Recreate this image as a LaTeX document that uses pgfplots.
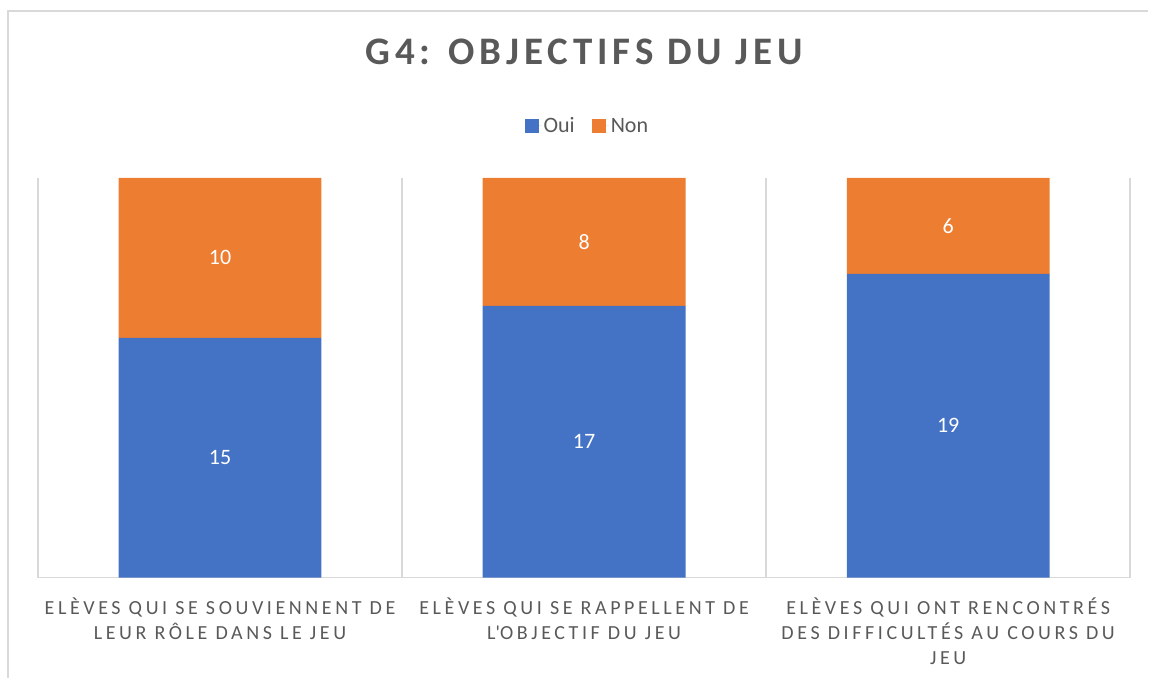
\documentclass[border=0pt]{standalone}
\usepackage{fontspec}
\setmainfont{Carlito}
\usepackage{pgfplots}
\usepackage{pgfplotstable}
\pgfplotsset{compat=1.18}
\definecolor{oui}{HTML}{4472C4}
\definecolor{non}{HTML}{ED7D31}
\definecolor{txt}{HTML}{595959}
\definecolor{grid}{HTML}{D9D9D9}
\pgfplotstableread{
x oui non
0 15 10
1 17 8
2 19 6
}\data
\begin{document}
\begin{tikzpicture}
\path (0pt,0pt) rectangle (1149pt,678pt);
\begin{axis}[
  at={(38pt,100pt)}, anchor=south west,
  scale only axis, width=1093pt, height=400pt,
  ybar stacked, bar width=203pt,
  xmin=-0.5, xmax=2.5, ymin=0, ymax=25,
  hide y axis,
  axis x line*=bottom,
  x axis line style={grid, line width=1.5pt, -},
  xtick={0,1,2},
  xticklabels={{ELÈVES QUI SE SOUVIENNENT DE\\LEUR RÔLE DANS LE JEU},{ELÈVES QUI SE RAPPELLENT DE\\L\textquotesingle OBJECTIF DU JEU},{ELÈVES QUI ONT RENCONTRÉS\\DES DIFFICULTÉS AU COURS DU\\JEU}},
  xticklabel style={font=\fontsize{20}{25}\selectfont\addfontfeature{LetterSpace=18}, text=txt, align=center, yshift=-17pt},
  major tick length=0pt, minor tick length=0pt,
  minor xtick={-0.5,0.5,1.5,2.5},
  xminorgrids, minor x grid style={grid, line width=1.5pt},
  title={G4: OBJECTIFS DU JEU},
  title style={at={(axis description cs:0.5,1.3)}, anchor=center, font=\fontsize{39}{47}\selectfont\bfseries\addfontfeature{LetterSpace=12.5}, text=txt},
  legend style={at={(axis description cs:0.503,1.13)}, anchor=center, draw=none, font=\fontsize{22}{26}\selectfont, text=txt, /tikz/every even column/.append style={column sep=15pt}},
  legend columns=2,
  legend image code/.code={\fill[#1] (0pt,-7pt) rectangle (14pt,7pt); \path (0pt,0pt) -- (17pt,0pt);},
  nodes near coords={\pgfmathprintnumber[assume math mode=true]{\segval}},
  nodes near coords align={center},
  every node near coord/.append style={font=\fontsize{22}{26}\selectfont, text=white, anchor=center},
]
\addplot[fill=oui, draw=none, visualization depends on={\thisrow{oui}\as\segval}] table[x=x,y=oui]{\data};
\addplot[fill=non, draw=none, visualization depends on={\thisrow{non}\as\segval}] table[x=x,y=non]{\data};
\legend{Oui,Non}
\end{axis}
\draw[grid, line width=1.5pt] (8pt,0pt) -- (8pt,667pt) -- (1149pt,667pt);
\end{tikzpicture}
\end{document}
